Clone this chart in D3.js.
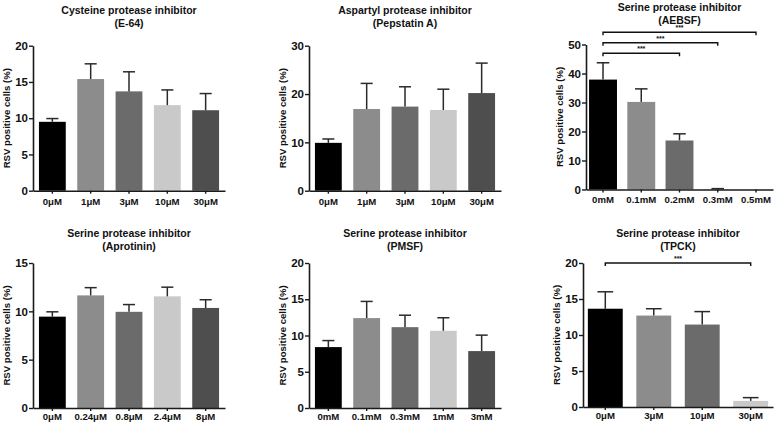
<!DOCTYPE html>
<html>
<head>
<meta charset="utf-8">
<script src="https://cdn.jsdelivr.net/npm/d3@7"></script>
<style>
  html, body { margin: 0; padding: 0; background: #fff; }
  svg { display: block; }
  text { font-family: "Liberation Sans", Arial, sans-serif; font-weight: bold; fill: #111; }
</style>
</head>
<body>
<svg id="chart" width="778" height="426"></svg>
<script>
// ---------- data ----------
const yAxisLabel = "RSV positive cells (%)";
const barColors = ["#000000", "#8c8c8c", "#6b6b6b", "#c9c9c9", "#4e4e4e"];

const e64Title = ["Cysteine protease inhibitor", "(E-64)"];
const e64Labels = ["0μM", "1μM", "3μM", "10μM", "30μM"];
const e64Means = [9.5, 15.4, 13.7, 11.8, 11.1];
const e64SD = [0.45, 2.1, 2.7, 2.1, 2.3];
const e64Ticks = [0, 5, 10, 15, 20];

const pepTitle = ["Aspartyl protease inhibitor", "(Pepstatin A)"];
const pepLabels = ["0μM", "1μM", "3μM", "10μM", "30μM"];
const pepMeans = [9.9, 16.9, 17.4, 16.7, 20.2];
const pepSD = [0.8, 5.3, 4.1, 4.3, 6.2];
const pepTicks = [0, 10, 20, 30];

const aebsfTitle = ["Serine protease inhibitor", "(AEBSF)"];
const aebsfLabels = ["0mM", "0.1mM", "0.2mM", "0.3mM", "0.5mM"];
const aebsfMeans = [37.9, 30.2, 16.9, 0.1, 0];
const aebsfSD = [5.8, 4.5, 2.3, 0.2, 0];
const aebsfTicks = [0, 10, 20, 30, 40, 50];
const aebsfSigPairs = [["0mM", "0.2mM"], ["0mM", "0.3mM"], ["0mM", "0.5mM"]];
const aebsfSigLevels = [47, 50.6, 54.2];
const aebsfSigText = ["***", "***", "***"];

const aproTitle = ["Serine protease inhibitor", "(Aprotinin)"];
const aproLabels = ["0μM", "0.24μM", "0.8μM", "2.4μM", "8μM"];
const aproMeans = [9.45, 11.65, 9.95, 11.55, 10.35];
const aproSD = [0.5, 0.8, 0.75, 0.95, 0.85];
const aproTicks = [0, 5, 10, 15];

const pmsfTitle = ["Serine protease inhibitor", "(PMSF)"];
const pmsfLabels = ["0mM", "0.1mM", "0.3mM", "1mM", "3mM"];
const pmsfMeans = [8.4, 12.4, 11.15, 10.65, 7.85];
const pmsfSD = [0.9, 2.3, 1.65, 1.8, 2.2];
const pmsfTicks = [0, 5, 10, 15, 20];

const tpckTitle = ["Serine protease inhibitor", "(TPCK)"];
const tpckLabels = ["0μM", "3μM", "10μM", "30μM"];
const tpckMeans = [13.65, 12.7, 11.45, 0.85];
const tpckSD = [2.35, 0.95, 1.8, 0.45];
const tpckTicks = [0, 5, 10, 15, 20];
const tpckSigPairs = [["0μM", "30μM"]];
const tpckSigLevels = [20];
const tpckSigText = ["***"];

// ---------- drawing ----------
const svg = d3.select("#chart");

function drawPanel(opt) {
  const g = svg.append("g");
  const x = d3.scaleBand()
    .domain(opt.labels)
    .range([opt.left, opt.right])
    .paddingInner(opt.padIn)
    .paddingOuter(opt.padOut);
  const y = d3.scaleLinear()
    .domain([0, d3.max(opt.ticks)])
    .range([opt.bottom, opt.top]);

  // bars
  g.selectAll("rect.bar")
    .data(opt.labels)
    .join("rect")
    .attr("class", "bar")
    .attr("x", d => x(d))
    .attr("width", x.bandwidth())
    .attr("y", (d, i) => y(opt.means[i]))
    .attr("height", (d, i) => y(0) - y(opt.means[i]))
    .attr("fill", (d, i) => barColors[i]);

  // error bars (mean -> mean + SD)
  const capW = x.bandwidth() * 0.45;
  const eb = g.selectAll("g.err")
    .data(opt.labels.map((d, i) => ({ d, i })).filter(o => opt.sds[o.i] > 0))
    .join("g").attr("class", "err");
  eb.append("line")
    .attr("x1", o => x(o.d) + x.bandwidth() / 2)
    .attr("x2", o => x(o.d) + x.bandwidth() / 2)
    .attr("y1", o => y(opt.means[o.i]))
    .attr("y2", o => y(opt.means[o.i] + opt.sds[o.i]))
    .attr("stroke", "#2a2a2a").attr("stroke-width", 1.5);
  eb.append("line")
    .attr("x1", o => x(o.d) + x.bandwidth() / 2 - capW / 2)
    .attr("x2", o => x(o.d) + x.bandwidth() / 2 + capW / 2)
    .attr("y1", o => y(opt.means[o.i] + opt.sds[o.i]))
    .attr("y2", o => y(opt.means[o.i] + opt.sds[o.i]))
    .attr("stroke", "#2a2a2a").attr("stroke-width", 1.5);

  // axes
  const yAx = g.append("g")
    .attr("transform", `translate(${opt.left},0)`)
    .call(d3.axisLeft(y).tickValues(opt.ticks).tickSize(4).tickPadding(1).tickSizeOuter(0));
  yAx.selectAll("text").style("font-size", "11.5px");
  const xAx = g.append("g")
    .attr("transform", `translate(0,${opt.bottom})`)
    .call(d3.axisBottom(x).tickSize(3).tickPadding(opt.xPad).tickSizeOuter(0));
  xAx.selectAll("text").style("font-size", "9.6px");
  [yAx, xAx].forEach(a => {
    a.select(".domain").attr("stroke", "#1a1a1a").attr("stroke-width", 1.6);
    a.selectAll(".tick line").attr("stroke", "#1a1a1a").attr("stroke-width", 1.4);
  });

  // y label
  g.append("text")
    .attr("transform", `translate(${opt.left - 23},${(opt.top + opt.bottom) / 2}) rotate(-90)`)
    .attr("text-anchor", "middle")
    .style("font-size", "9.6px")
    .text(yAxisLabel);

  // title
  const cx = (opt.left + opt.right) / 2;
  opt.title.forEach((t, k) => {
    g.append("text")
      .attr("x", cx)
      .attr("y", opt.titleY + k * 12.5)
      .attr("text-anchor", "middle")
      .style("font-size", "10.5px")
      .text(t);
  });

  // significance brackets
  if (opt.sig) {
    opt.sig.pairs.forEach((p, k) => {
      const xa = x(p[0]) + x.bandwidth() / 2;
      const xb = x(p[1]) + x.bandwidth() / 2;
      const yy = y(opt.sig.levels[k]);
      g.append("path")
        .attr("d", `M${xa},${yy + 3}V${yy}H${xb}V${yy + 3}`)
        .attr("fill", "none")
        .attr("stroke", "#111")
        .attr("stroke-width", 1.4);
      g.append("text")
        .attr("x", (xa + xb) / 2)
        .attr("y", yy - 2)
        .attr("text-anchor", "middle")
        .style("font-size", "7px")
        .text(opt.sig.text[k]);
    });
  }
}

drawPanel({ title: e64Title, labels: e64Labels, means: e64Means, sds: e64SD, ticks: e64Ticks,
  left: 33, right: 225, top: 45.7, bottom: 190.7, padIn: 0.3, padOut: 0.155, titleY: 14, xPad: 4 });
drawPanel({ title: pepTitle, labels: pepLabels, means: pepMeans, sds: pepSD, ticks: pepTicks,
  left: 309, right: 501, top: 45.7, bottom: 190.7, padIn: 0.3, padOut: 0.155, titleY: 14, xPad: 4 });
drawPanel({ title: aebsfTitle, labels: aebsfLabels, means: aebsfMeans, sds: aebsfSD, ticks: aebsfTicks,
  left: 586, right: 773, top: 44.5, bottom: 189.5, padIn: 0.27, padOut: 0.08, titleY: 11, xPad: 4,
  sig: { pairs: aebsfSigPairs, levels: aebsfSigLevels, text: aebsfSigText } });
drawPanel({ title: aproTitle, labels: aproLabels, means: aproMeans, sds: aproSD, ticks: aproTicks,
  left: 33, right: 225, top: 263, bottom: 408, padIn: 0.3, padOut: 0.155, titleY: 237, xPad: 2 });
drawPanel({ title: pmsfTitle, labels: pmsfLabels, means: pmsfMeans, sds: pmsfSD, ticks: pmsfTicks,
  left: 309, right: 501, top: 263, bottom: 408, padIn: 0.3, padOut: 0.155, titleY: 237, xPad: 2 });
drawPanel({ title: tpckTitle, labels: tpckLabels, means: tpckMeans, sds: tpckSD, ticks: tpckTicks,
  left: 583, right: 773, top: 263, bottom: 407, padIn: 0.28, padOut: 0.1, titleY: 237, xPad: 2,
  sig: { pairs: tpckSigPairs, levels: tpckSigLevels, text: tpckSigText } });
</script>
</body>
</html>
